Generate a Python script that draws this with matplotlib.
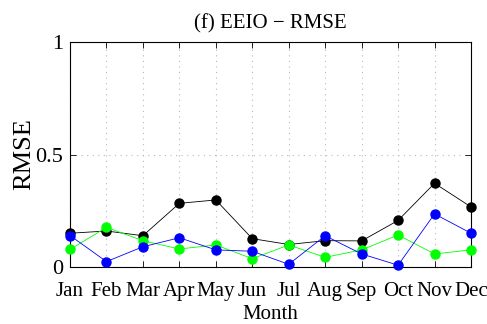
import matplotlib
matplotlib.use("Agg")
import matplotlib.pyplot as plt

months = ["Jan", "Feb", "Mar", "Apr", "May", "Jun", "Jul", "Aug", "Sep", "Oct", "Nov", "Dec"]
black_vals = [0.150, 0.160, 0.139, 0.283, 0.298, 0.126, 0.100, 0.117, 0.116, 0.207, 0.372, 0.267]
blue_vals = [0.140, 0.024, 0.090, 0.130, 0.076, 0.070, 0.012, 0.139, 0.058, 0.008, 0.236, 0.150]
green_vals = [0.078, 0.176, 0.117, 0.080, 0.098, 0.037, 0.098, 0.043, 0.076, 0.142, 0.058, 0.076]

plt.rcParams["font.family"] = ["Liberation Serif", "DejaVu Serif"]

fig = plt.figure(figsize=(4.87, 3.24), dpi=100)
ax = fig.add_axes([70 / 487, 1 - 267 / 324, 401 / 487, 225 / 324])

x = list(range(1, 13))
for vals, col in [(black_vals, "black"), (green_vals, "#00ff00"), (blue_vals, "#0000ff")]:
    ax.plot(x, vals, color=col, lw=0.6, marker="o", ms=6.5, mec=col, mfc=col, clip_on=False, zorder=3)

ax.set_xlim(1, 12)
ax.set_ylim(0, 1)
ax.set_xticks(x)
ax.set_xticklabels(months)
ax.set_yticks([0, 0.5, 1])
ax.set_yticklabels(["0", "0.5", "1"])
ax.tick_params(direction="in", length=4, width=0.6, top=True, right=True)
ax.tick_params(axis="x", labelsize=15, pad=10.5)
ax.tick_params(axis="y", labelsize=16, pad=5)
ax.grid(True, color="#b8b8b8", linestyle=(0, (1, 4)), linewidth=0.8)
for s in ax.spines.values():
    s.set_linewidth(0.8)

ax.set_title("(f) EEIO \u2212 RMSE", fontsize=15, pad=10)
ax.set_xlabel("Month", fontsize=15, labelpad=3)
ax.set_ylabel("RMSE", fontsize=19, labelpad=0)

fig.savefig("out.png", dpi=100)
